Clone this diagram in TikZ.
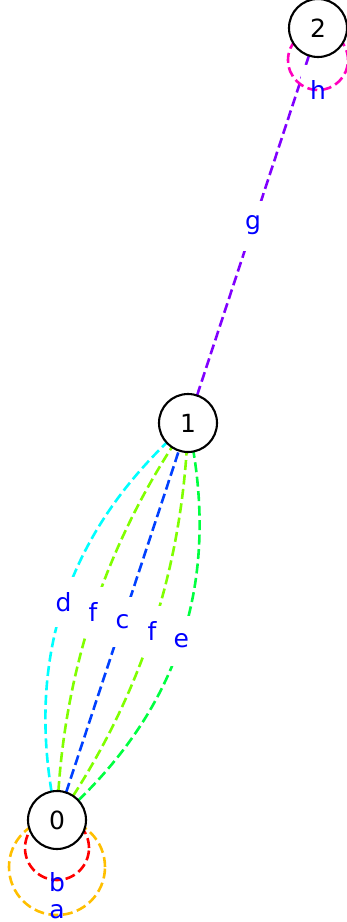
\documentclass[tikz,border=0pt]{standalone}
\usepackage{fontspec}
\setmainfont{DejaVu Sans}
\usetikzlibrary{calc}
\definecolor{colA}{HTML}{FFBF00}
\definecolor{colB}{HTML}{FF0000}
\definecolor{colC}{HTML}{0040FF}
\definecolor{colD}{HTML}{00FFFF}
\definecolor{colE}{HTML}{00FF40}
\definecolor{colF}{HTML}{80FF00}
\definecolor{colG}{HTML}{8000FF}
\definecolor{colH}{HTML}{FF00BF}
\definecolor{labblue}{HTML}{0000FF}
\pgfdeclarelayer{bg}
\pgfsetlayers{bg,main}
\begin{document}
\begin{tikzpicture}[x=1pt,y=1pt,
  vert/.style={circle,draw=black,line width=2.1pt,fill=white,minimum size=58pt,inner sep=0pt,font=\fontsize{25}{25}\selectfont},
  conn/.style={line width=2.6pt,dash pattern=on 10pt off 4.5pt},
  elab/.style={fill=white,text=labblue,minimum width=34pt,minimum height=50pt,inner sep=0pt,font=\fontsize{25}{25}\selectfont},
  llab/.style={text=labblue,minimum width=34pt,minimum height=50pt,inner sep=0pt,font=\fontsize{25}{25}\selectfont}]
\useasboundingbox (0,0) rectangle (346,-922);
% vertices
\node[vert] (n0) at (57,-820) {0};
\node[vert] (n1) at (188,-423) {1};
\node[vert] (n2) at (318,-28) {2};
% loop labels (on top)
\node[llab] (lb) at (57,-882) {b};
\node[llab] (la) at (57,-912) {a};
\node[llab] (lh) at (318,-90) {h};
% geometry of the arcs between 0 and 1
\coordinate (m01) at ($(n0.center)!0.5!(n1.center)$);
\coordinate (cd) at ($(m01)!124pt!90:(n1.center)$);
\coordinate (cf1) at ($(m01)!62pt!90:(n1.center)$);
\coordinate (cf2) at ($(m01)!62pt!-90:(n1.center)$);
\coordinate (ce) at ($(m01)!124pt!-90:(n1.center)$);
\coordinate (ld) at ($(m01)!62pt!90:(n1.center)$);
\coordinate (lf1) at ($(m01)!31pt!90:(n1.center)$);
\coordinate (lf2) at ($(m01)!31pt!-90:(n1.center)$);
\coordinate (le) at ($(m01)!62pt!-90:(n1.center)$);
\coordinate (m12) at ($(n1.center)!0.5!(n2.center)$);
\begin{pgfonlayer}{bg}
  % edges between 0 and 1
  \draw[conn,colD] (n0.center) .. controls ($(n0.center)!2/3!(cd)$) and ($(n1.center)!2/3!(cd)$) .. (n1.center);
  \draw[conn,colF] (n0.center) .. controls ($(n0.center)!2/3!(cf1)$) and ($(n1.center)!2/3!(cf1)$) .. (n1.center);
  \draw[conn,colC] (n0.center) -- (n1.center);
  \draw[conn,colF] (n0.center) .. controls ($(n0.center)!2/3!(cf2)$) and ($(n1.center)!2/3!(cf2)$) .. (n1.center);
  \draw[conn,colE] (n0.center) .. controls ($(n0.center)!2/3!(ce)$) and ($(n1.center)!2/3!(ce)$) .. (n1.center);
  % edge between 1 and 2
  \draw[conn,colG] (n1.center) -- (n2.center);
  % edge labels
  \node[elab] at (ld) {d};
  \node[elab] at (lf1) {f};
  \node[elab] at (m01) {c};
  \node[elab] at (lf2) {f};
  \node[elab] at (le) {e};
  \node[elab] at (m12) {g};
  \fill[white] (lh.south west) rectangle (lh.north east);
  % self loops
  \draw[conn,colA] (n0.center) ++(0,-47) circle[radius=48];
  \draw[conn,colB] (n0.center) ++(0,-28) circle[radius=32];
  \draw[conn,colH] (n2.center) ++(0,-32) circle[radius=30];
\end{pgfonlayer}
\end{tikzpicture}
\end{document}
